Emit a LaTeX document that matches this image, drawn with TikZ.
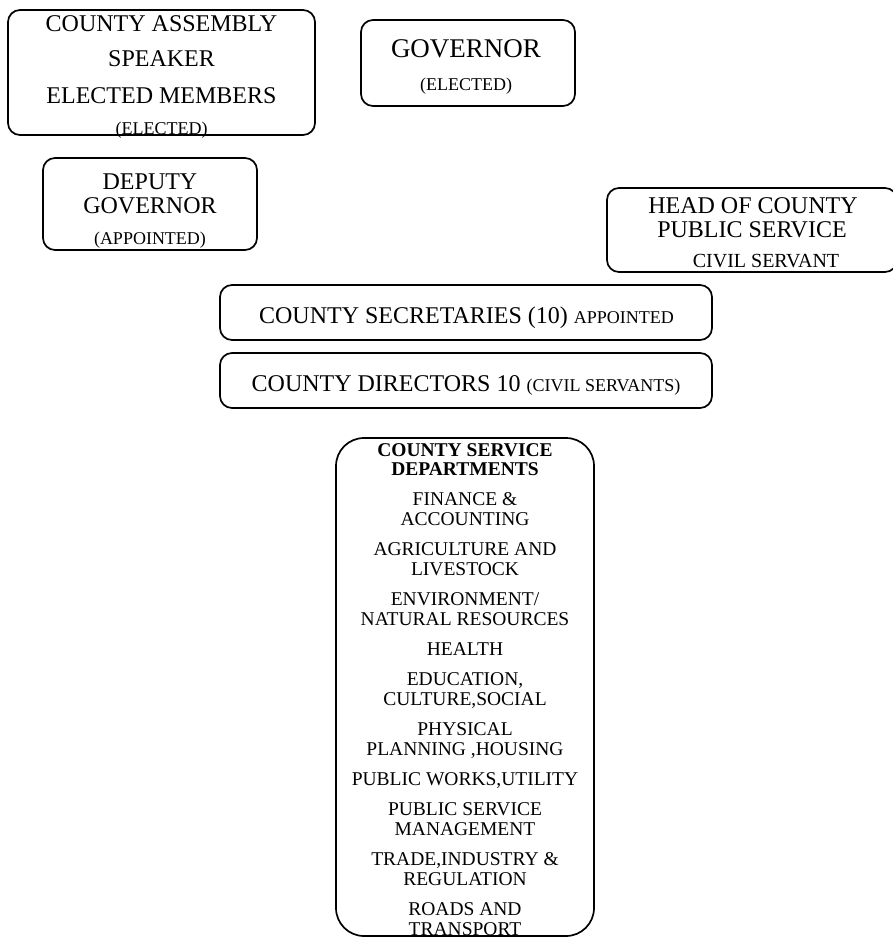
\documentclass[tikz,border=0pt]{standalone}
\usepackage{fontspec}
\setmainfont{Liberation Serif}
\tikzstyle{box} = [draw, rounded corners=12pt, line width=1.7pt]
\tikzstyle{big} = [inner sep=0pt, anchor=base, font=\fontsize{24}{28}\selectfont]
\tikzstyle{small} = [inner sep=0pt, anchor=base, font=\fontsize{18}{20}\selectfont]

\begin{document}
\begin{tikzpicture}[x=1pt, y=-1pt]
                \useasboundingbox (0,0) rectangle (892,939);

                % boxes
                \node (asm) [box, minimum width=307pt, minimum height=125pt] at (161.5,72.5) {};
                \node (gov) [box, minimum width=214pt, minimum height=86pt] at (468,63) {};
                \node (dep) [box, minimum width=214pt, minimum height=92pt] at (150,204) {};
                \node (head) [box, minimum width=290pt, minimum height=84pt] at (752,230) {};
                \node (sec) [box, minimum width=492pt, minimum height=55pt] at (466,312.5) {};
                \node (dir) [box, minimum width=492pt, minimum height=55pt] at (466,380.5) {};
                \node (dept) [box, rounded corners=28pt, minimum width=258pt, minimum height=498pt] at (465,687) {};

                % county assembly
                \node (asm1) [big] at (161.5,32) {COUNTY ASSEMBLY};
                \node (asm2) [big] at (161.5,67) {SPEAKER};
                \node (asm3) [big] at (161.5,104) {ELECTED MEMBERS};
                \node (asm4) [small] at (161.5,135) {(ELECTED)};

                % governor
                \node (gov1) [big, font=\fontsize{27}{30}\selectfont] at (466,58) {GOVERNOR};
                \node (gov2) [small] at (466,91) {(ELECTED)};

                % deputy
                \node (dep1) [big] at (150,189) {DEPUTY};
                \node (dep2) [big] at (150,213) {GOVERNOR};
                \node (dep3) [small] at (150,244) {(APPOINTED)};

                % head of public service
                \node (head1) [big] at (753,213) {HEAD OF COUNTY};
                \node (head2) [big] at (752,237) {PUBLIC SERVICE};
                \node (head3) [small, font=\fontsize{20}{22}\selectfont] at (766,267) {CIVIL SERVANT};

                \node (sec1) [big] at (466.5,323) {COUNTY SECRETARIES (10) {\fontsize{18}{20}\selectfont APPOINTED}};
                \node (dir1) [big] at (466,391) {COUNTY DIRECTORS 10 {\fontsize{18}{20}\selectfont (CIVIL SERVANTS)}};

                % departments
                \node (dept1) [inner sep=0pt, anchor=north, align=center, font=\fontsize{19.5}{20}\selectfont] at (465,443)
                    {\textbf{COUNTY SERVICE}\\[-1pt] \textbf{DEPARTMENTS}\\[10pt]
                     FINANCE \&\\ ACCOUNTING\\[10pt]
                     AGRICULTURE AND\\ LIVESTOCK\\[10pt]
                     ENVIRONMENT/\\ NATURAL RESOURCES\\[10pt]
                     HEALTH\\[10pt]
                     EDUCATION,\\ CULTURE,SOCIAL\\[10pt]
                     PHYSICAL\\ PLANNING ,HOUSING\\[10pt]
                     PUBLIC WORKS,UTILITY\\[10pt]
                     PUBLIC SERVICE\\ MANAGEMENT\\[10pt]
                     TRADE,INDUSTRY \&\\ REGULATION\\[10pt]
                     ROADS AND\\ TRANSPORT};
            \end{tikzpicture}
\end{document}
